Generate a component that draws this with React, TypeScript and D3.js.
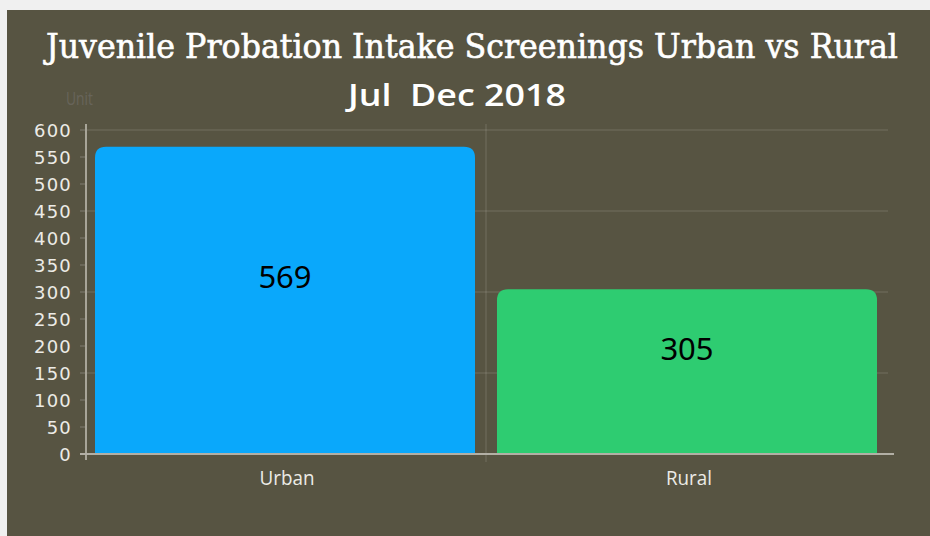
import React from "react";
import * as d3 from "d3";

const categories = ["Urban", "Rural"];
const values = [569, 305];
const barColors = ["#0aa8fb", "#2ecc71"];
const yTicks = [0, 50, 100, 150, 200, 250, 300, 350, 400, 450, 500, 550, 600];
const gridValues = [0, 150, 300, 450, 600];
const titleText = "Juvenile Probation Intake Screenings Urban vs Rural";
const subtitleText = "Jul  Dec 2018";

const W = 930;
const H = 536;

function topRoundedRect(x: number, y: number, w: number, h: number, r: number) {
  const rr = Math.min(r, w / 2, h);
  return `M${x},${y + h} L${x},${y + rr} Q${x},${y} ${x + rr},${y} L${x + w - rr},${y} Q${x + w},${y} ${x + w},${y + rr} L${x + w},${y + h} Z`;
}

export default function App() {
  const y = d3.scaleLinear().domain([0, 600]).range([454, 130]);
  const x = d3
    .scaleBand<string>()
    .domain(categories)
    .range([84, 888])
    .paddingInner(0.0547)
    .paddingOuter(0.02735);
  const divider = 84 + x.step();

  return (
    <svg width={W} height={H} style={{ position: "absolute", left: 0, top: 0 }}>
      <rect x={0} y={0} width={W} height={H} fill="#f0f0f0" />
      <rect x={7} y={10} width={W - 7} height={H - 10} fill="#575442" />

      <text
        x={472}
        y={58}
        textAnchor="middle"
        fill="#ffffff"
        stroke="#ffffff"
        strokeWidth={0.6}
        fontFamily="'DejaVu Serif Condensed', 'DejaVu Serif', serif"
        fontStretch="condensed"
        fontSize={34}
        textLength={852}
        lengthAdjust="spacingAndGlyphs"
      >
        {titleText}
      </text>
      <text
        x={457}
        y={106}
        textAnchor="middle"
        fill="#ffffff"
        fontFamily="'Open Sans', sans-serif"
        fontWeight={600}
        fontSize={31}
        textLength={218}
        lengthAdjust="spacingAndGlyphs"
        style={{ whiteSpace: "pre" }}
      >
        {subtitleText}
      </text>
      <text
        x={66}
        y={105}
        fill="#67645a"
        fontFamily="'Open Sans', sans-serif"
        fontSize={18}
        textLength={27}
        lengthAdjust="spacingAndGlyphs"
      >
        Unit
      </text>

      {gridValues.map((v) => (
        <line key={"g" + v} x1={86} x2={888} y1={y(v)} y2={y(v)} stroke="#ffffff" strokeOpacity={0.08} strokeWidth={2} />
      ))}
      <line x1={divider} x2={divider} y1={124} y2={462} stroke="#ffffff" strokeOpacity={0.08} strokeWidth={2} />

      {categories.map((c, i) => {
        const bx = x(c) as number;
        const by = y(values[i]);
        const bh = y(0) - by;
        return (
          <g key={c}>
            <path d={topRoundedRect(bx, by, x.bandwidth(), bh, 11)} fill={barColors[i]} />
            <text
              x={bx + x.bandwidth() / 2}
              y={y(values[i] / 2) - 12}
              textAnchor="middle"
              fill="#000000"
              fontFamily="'Noto Sans', sans-serif"
              fontSize={31}
            >
              {values[i]}
            </text>
            <text
              x={bx + x.bandwidth() / 2 + 2}
              y={485}
              textAnchor="middle"
              fill="#ecebe6"
              fontFamily="'Open Sans', sans-serif"
              fontWeight={500}
              fontSize={20}
              textLength={c === "Urban" ? 55 : 46}
              lengthAdjust="spacingAndGlyphs"
            >
              {c}
            </text>
          </g>
        );
      })}

      {yTicks.map((v) => (
        <g key={"t" + v}>
          <line x1={80} x2={86} y1={y(v)} y2={y(v)} stroke="#ffffff" strokeOpacity={v === 0 ? 0.6 : 0.12} strokeWidth={2} />
          <text
            x={72}
            y={y(v) + 6.5}
            textAnchor="end"
            fill="#ecebe6"
            fontFamily="'DejaVu Sans', sans-serif"
            fontSize={18}
            letterSpacing={1.2}
          >
            {v}
          </text>
        </g>
      ))}

      <line x1={86} x2={86} y1={124} y2={460} stroke="#a8a598" strokeWidth={2} />
      <line x1={80} x2={894} y1={454} y2={454} stroke="#b2afa5" strokeWidth={2} />
    </svg>
  );
}
